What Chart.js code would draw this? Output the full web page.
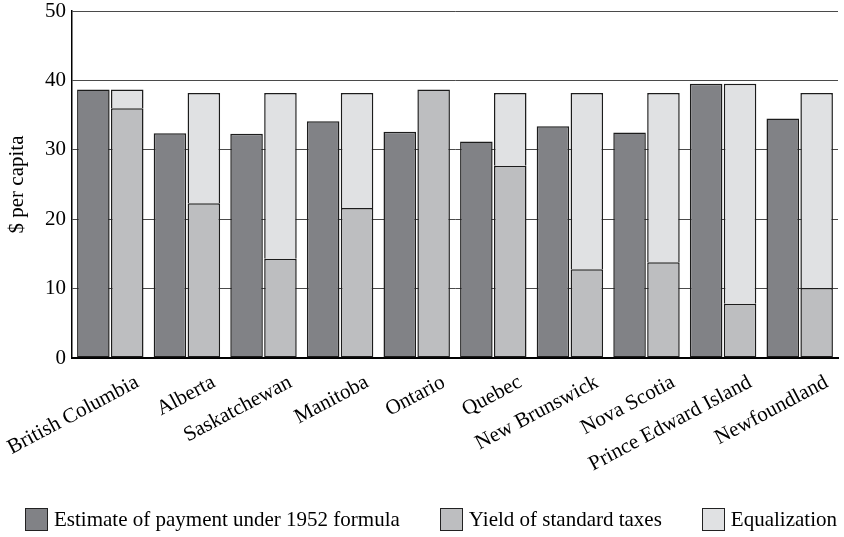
<!DOCTYPE html>
<html>
<head>
<meta charset="utf-8">
<script src="https://cdn.jsdelivr.net/npm/chart.js@4/dist/chart.umd.min.js"></script>
<style>
  body { margin: 0; background: #fff; }
  #wrap { position: relative; width: 844px; height: 537px; }
  #legend {
    position: absolute; left: 25px; top: 508px;
    display: flex; gap: 40px; white-space: nowrap;
    font-family: "Liberation Serif", serif; font-size: 21px; line-height: 23px; color: #000;
  }
  #legend span.item { display: flex; align-items: center; }
  #legend span.box {
    display: inline-block; width: 23px; height: 23px; margin-right: 6px;
    border: 1.5px solid #222; box-sizing: border-box;
  }
</style>
</head>
<body>
<div id="wrap">
  <canvas id="chart" width="844" height="537"></canvas>
  <div id="legend"></div>
</div>
<script>
const provinces = ["British Columbia", "Alberta", "Saskatchewan", "Manitoba", "Ontario",
  "Quebec", "New Brunswick", "Nova Scotia", "Prince Edward Island", "Newfoundland"];
const estimate = [38.7, 32.4, 32.3, 34.1, 32.6, 31.2, 33.4, 32.5, 39.5, 34.5];
const yieldTaxes = [36.0, 22.3, 14.3, 21.6, 38.7, 27.7, 12.8, 13.8, 7.8, 10.1];
const equalization = [2.7, 15.9, 23.9, 16.6, 0, 10.5, 25.4, 24.4, 31.7, 28.1];
const yTicks = [0, 10, 20, 30, 40, 50];

const seriesNames = ["Estimate of payment under 1952 formula", "Yield of standard taxes", "Equalization"];
const colors = ["#818286", "#bdbec0", "#e0e1e3"];

const serif = "'Liberation Serif', 'Times New Roman', serif";

const barStyle = {
  borderColor: "#1c1c1c",
  borderWidth: 1.5,
  barPercentage: 0.96,
  categoryPercentage: 0.885
};

const ctx = document.getElementById("chart").getContext("2d");
new Chart(ctx, {
  type: "bar",
  data: {
    labels: provinces,
    datasets: [
      { label: seriesNames[0], data: estimate, backgroundColor: colors[0], stack: "a", borderSkipped: false, ...barStyle },
      { label: seriesNames[1], data: yieldTaxes, backgroundColor: colors[1], stack: "b", borderSkipped: false, ...barStyle },
      { label: seriesNames[2], data: equalization, backgroundColor: colors[2], stack: "b", borderSkipped: "start", ...barStyle }
    ]
  },
  options: {
    responsive: false,
    animation: false,
    layout: { padding: { top: 11, right: 6, left: 0, bottom: 0 } },
    plugins: {
      legend: { display: false },
      tooltip: { enabled: false }
    },
    scales: {
      x: {
        stacked: true,
        grid: { display: false, drawTicks: false },
        border: { display: true, color: "#000", width: 2 },
        ticks: {
          color: "#000",
          font: { family: serif, size: 21 },
          minRotation: 28,
          maxRotation: 28,
          padding: 12,
          labelOffset: 27
        },
        afterFit: scale => {
          scale.height = 179;
          scale.paddingLeft = 0;
          scale.paddingRight = 0;
        }
      },
      y: {
        stacked: true,
        min: 0,
        max: 50,
        afterBuildTicks: scale => { scale.ticks = yTicks.map(v => ({ value: v })); },
        grid: { color: "#4a4a4a", lineWidth: 1, drawTicks: false },
        border: { display: true, color: "#000", width: 1.5 },
        ticks: {
          color: "#000",
          font: { family: serif, size: 21 },
          padding: 6
        },
        title: {
          display: true,
          text: "$ per capita",
          color: "#000",
          font: { family: serif, size: 21 },
          padding: { top: 5, bottom: 0 }
        },
        afterFit: scale => {
          scale.width = 72;
          scale.paddingTop = 0;
          scale.paddingBottom = 0;
        }
      }
    }
  }
});

const legend = document.getElementById("legend");
seriesNames.forEach((name, i) => {
  const item = document.createElement("span");
  item.className = "item";
  const box = document.createElement("span");
  box.className = "box";
  box.style.background = colors[i];
  item.appendChild(box);
  item.appendChild(document.createTextNode(name));
  legend.appendChild(item);
});
</script>
</body>
</html>
